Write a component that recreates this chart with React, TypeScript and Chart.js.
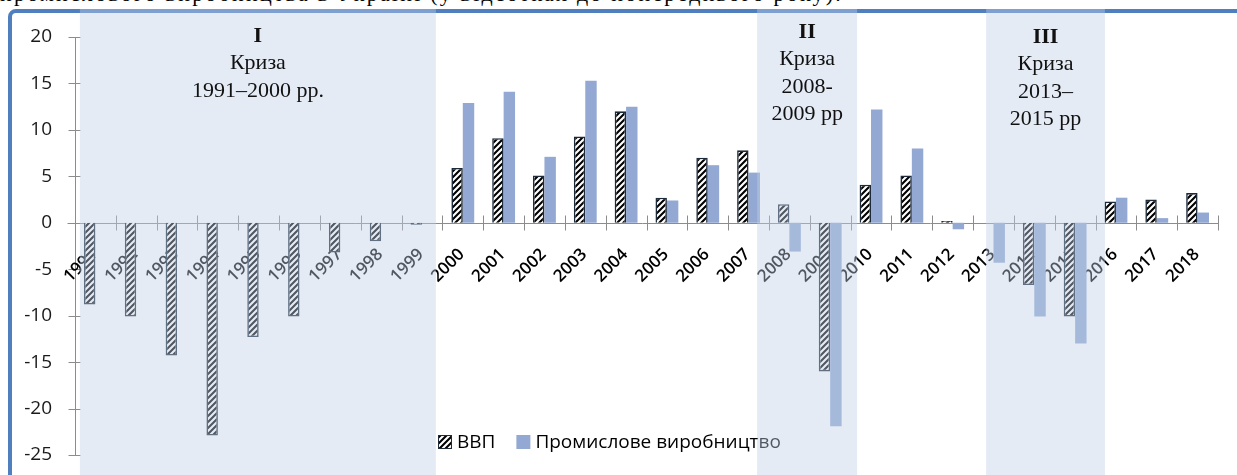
import React, { useEffect, useRef } from 'react';
import { Chart, registerables } from 'chart.js';

Chart.register(...registerables);

// ---- data ----
const years = ['1991', '1992', '1993', '1994', '1995', '1996', '1997', '1998', '1999', '2000', '2001', '2002', '2003', '2004', '2005', '2006', '2007', '2008', '2009', '2010', '2011', '2012', '2013', '2014', '2015', '2016', '2017', '2018'];
const gdp = [-8.8, -10.1, -14.3, -22.9, -12.3, -10.1, -3.2, -2.0, -0.2, 5.9, 9.1, 5.1, 9.3, 12.0, 2.7, 7.0, 7.8, 2.0, -16.0, 4.1, 5.1, 0.2, 0.0, -6.7, -10.1, 2.3, 2.5, 3.2];
const industry = [null, null, null, null, null, null, null, null, null, 12.9, 14.1, 7.1, 15.3, 12.5, 2.4, 6.2, 5.4, -3.1, -21.9, 12.2, 8.0, -0.7, -4.3, -10.1, -13.0, 2.7, 0.5, 1.1];
const seriesLabels = ['ВВП', 'Промислове виробництво'];
const yTicks = [20, 15, 10, 5, 0, -5, -10, -15, -20, -25];
const yMin = -25;
const yMax = 20;

// crisis periods (in category-index units)
const crisisNumerals = ['I', 'II', 'III'];
const crisisLines = [
  ['Криза', '1991–2000 рр.'],
  ['Криза', '2008-', '2009 рр'],
  ['Криза', '2013–', '2015 рр'],
];
const crisisStart = [-0.38, 16.21, 21.82];
const crisisEnd = [8.34, 18.66, 24.73];

const topText = 'промислового виробництва в Україні (у відсотках до попереднього року).';

function makeHatch(ctx: CanvasRenderingContext2D) {
  const c = document.createElement('canvas');
  c.width = 6;
  c.height = 6;
  const g = c.getContext('2d')!;
  g.fillStyle = '#ffffff';
  g.fillRect(0, 0, 6, 6);
  g.strokeStyle = '#000000';
  g.lineWidth = 2.1;
  g.beginPath();
  g.moveTo(-1, 7);
  g.lineTo(7, -1);
  g.moveTo(-1, 1);
  g.lineTo(1, -1);
  g.moveTo(5, 7);
  g.lineTo(7, 5);
  g.stroke();
  return ctx.createPattern(c, 'repeat')!;
}

const BLUE = '#93a9d3';

export default function App() {
  const ref = useRef<HTMLCanvasElement>(null);

  useEffect(() => {
    document.body.style.margin = '0';
    const canvas = ref.current!;
    const ctx0 = canvas.getContext('2d')!;
    const hatch = makeHatch(ctx0);

    const custom = {
      id: 'custom',
      beforeDatasetsDraw(chart: any) {
        const { ctx, chartArea, scales } = chart;
        const x = scales.x;
        const y = scales.y;
        ctx.save();
        ctx.strokeStyle = '#8c8c8c';
        ctx.lineWidth = 1;
        const ax = Math.round(chartArea.left) + 0.5;
        ctx.beginPath();
        ctx.moveTo(ax, y.getPixelForValue(yMax));
        ctx.lineTo(ax, y.getPixelForValue(yMin));
        yTicks.forEach((v) => {
          const py = Math.round(y.getPixelForValue(v)) + 0.5;
          ctx.moveTo(ax - 7, py);
          ctx.lineTo(ax + 5, py);
        });
        const y0 = y.getPixelForValue(0);
        const py0 = Math.round(y0) + 0.5;
        ctx.moveTo(ax - 8, py0);
        ctx.lineTo(chartArea.right, py0);
        for (let i = 0; i <= years.length; i++) {
          const px = Math.round(x.getPixelForValue(i - 0.5)) + 0.5;
          ctx.moveTo(px, py0 - 8);
          ctx.lineTo(px, py0 + 7);
        }
        ctx.stroke();
        // category labels, rotated 45°, just below the zero line
        ctx.fillStyle = '#000';
        ctx.font = '600 17px "Open Sans"';
        ctx.textAlign = 'right';
        ctx.textBaseline = 'middle';
        years.forEach((yr, i) => {
          ctx.save();
          ctx.translate(x.getPixelForValue(i) - 1, y0 + 29);
          ctx.rotate(-Math.PI / 4);
          ctx.fillText(yr, 0, 0);
          ctx.restore();
        });
        ctx.restore();
      },
      afterDraw(chart: any) {
        const { ctx, chartArea, scales } = chart;
        const x = scales.x;
        ctx.save();
        // legend
        ctx.font = '19px "Open Sans"';
        ctx.textBaseline = 'middle';
        ctx.textAlign = 'left';
        let lx = chartArea.left + 363;
        const ly = chartArea.bottom - 13;
        seriesLabels.forEach((lab, i) => {
          ctx.fillStyle = i === 0 ? hatch : BLUE;
          ctx.fillRect(lx, ly - 7, 14, 14);
          if (i === 0) {
            ctx.strokeStyle = '#1c2a3a';
            ctx.lineWidth = 1;
            ctx.strokeRect(lx + 0.5, ly - 6.5, 13, 13);
          }
          ctx.fillStyle = '#000';
          ctx.fillText(lab, lx + 19, ly + 1);
          lx += 19 + ctx.measureText(lab).width + 21;
        });
        // crisis overlays
        ctx.fillStyle = 'rgba(190,208,232,0.42)';
        const top = 9;
        crisisStart.forEach((s, i) => {
          const x1 = x.getPixelForValue(s);
          const x2 = x.getPixelForValue(crisisEnd[i]);
          ctx.fillRect(x1, top, x2 - x1, chart.height - top);
        });
        // annotation texts
        const offsets = [-1, -5, 0];
        crisisStart.forEach((s, i) => {
          const cx = (x.getPixelForValue(s) + x.getPixelForValue(crisisEnd[i])) / 2;
          let cy = chartArea.top + offsets[i];
          ctx.fillStyle = '#111';
          ctx.textAlign = 'center';
          ctx.textBaseline = 'middle';
          ctx.font = 'bold 22px "Liberation Serif"';
          ctx.fillText(crisisNumerals[i], cx, cy);
          ctx.font = '22px "Liberation Serif"';
          crisisLines[i].forEach((line) => {
            cy += 27.5;
            ctx.fillText(line, cx, cy);
          });
        });
        ctx.restore();
      },
    };

    const chart = new Chart(canvas, {
      type: 'bar',
      data: {
        labels: years,
        datasets: [
          {
            label: seriesLabels[0],
            data: gdp,
            backgroundColor: hatch,
            borderColor: '#1c2a3a',
            borderWidth: 1.6,
            categoryPercentage: 0.56,
            barPercentage: 1,
          },
          {
            label: seriesLabels[1],
            data: industry as any,
            backgroundColor: BLUE,
            borderWidth: 0,
            categoryPercentage: 0.56,
            barPercentage: 1,
          },
        ],
      },
      options: {
        animation: false,
        responsive: false,
        maintainAspectRatio: false,
        layout: { padding: { top: 37, left: 0, right: 19, bottom: 20 } },
        plugins: {
          legend: { display: false },
          tooltip: { enabled: false },
          title: { display: false },
        },
        scales: {
          x: {
            type: 'category',
            display: false,
            offset: true,
          },
          y: {
            min: yMin,
            max: yMax,
            grid: { display: false, drawTicks: false },
            border: { display: false },
            afterFit: (s: any) => {
              s.width = 75;
              s.paddingTop = 0;
              s.paddingBottom = 0;
            },
            ticks: {
              stepSize: 5,
              padding: 23,
              color: '#1a1a1a',
              font: { family: '"Open Sans"', size: 19 },
            },
          },
        },
      },
      plugins: [custom],
    });
    return () => chart.destroy();
  }, []);

  return (
    <div style={{ position: 'relative', width: 1237, height: 475, overflow: 'hidden', background: '#fff' }}>
      <div
        style={{
          position: 'absolute',
          left: 0,
          top: -17,
          whiteSpace: 'nowrap',
          fontFamily: '"Liberation Serif", serif',
          fontSize: 22,
          lineHeight: '22px',
          letterSpacing: '2.2px',
          color: '#000',
        }}
      >
        {topText}
      </div>
      <div
        style={{
          position: 'absolute',
          left: 8,
          top: 9,
          width: 1300,
          height: 520,
          border: '4px solid #4f7fbf',
          borderRadius: 8,
          background: '#fff',
        }}
      />
      <canvas ref={ref} width={1237} height={475} style={{ position: 'absolute', left: 0, top: 0, width: 1237, height: 475 }} />
    </div>
  );
}
